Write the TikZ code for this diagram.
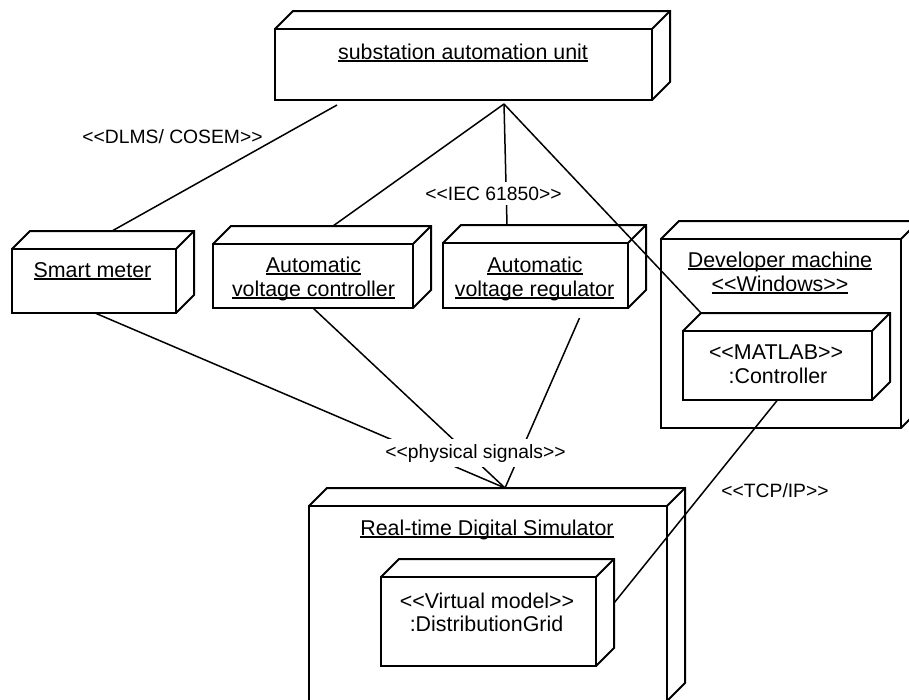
\documentclass[tikz,border=0pt]{standalone}
\usepackage{fontspec}
\setmainfont{Liberation Sans}
\usetikzlibrary{calc}
\newsavebox\ulbox
\newcommand\ulx[1]{\sbox\ulbox{#1}\rlap{\rule[-3pt]{\wd\ulbox}{2pt}}\usebox\ulbox}
\tikzset{
  cube/.style={draw, line width=2pt, rectangle, outer sep=0pt, inner sep=0pt},
  conn/.style={line width=1.5pt},
  ntext/.style={font=\fontsize{21.4}{24}\selectfont, inner sep=0pt, anchor=base},
  lbl/.style={font=\fontsize{19.3}{22}\selectfont, inner sep=5pt, anchor=base, fill=white},
}
\newcommand\depthfaces[1]{%
  \draw[line width=2pt, line join=miter] (#1.north west) -- ++(18,-18)
     -- ([shift={(18,-18)}]#1.north east) -- ([shift={(18,-18)}]#1.south east) -- (#1.south east);
  \draw[line width=2pt] (#1.north east) -- ++(18,-18);}
\begin{document}
\begin{tikzpicture}[x=1pt,y=-1pt]
\useasboundingbox (0,0) rectangle (909,699);
\clip (0,0) rectangle (909,699);
\fill[white] (0,0) rectangle (909,699);

% boxes
\node[cube, minimum width=377pt, minimum height=71pt] (sau) at (463.5,64.5) {};
\depthfaces{sau}
\node[cube, minimum width=164pt, minimum height=64pt] (sm) at (94,281) {};
\depthfaces{sm}
\node[cube, minimum width=200pt, minimum height=64pt] (avc) at (313,276) {};
\depthfaces{avc}
\node[cube, minimum width=185pt, minimum height=65pt] (avr) at (535.5,275.5) {};
\depthfaces{avr}
\node[cube, minimum width=240pt, minimum height=189pt] (dev) at (781,333.5) {};
\depthfaces{dev}
\node[cube, minimum width=189pt, minimum height=69pt] (mat) at (777.5,365.5) {};
\depthfaces{mat}
\node[cube, minimum width=358pt, minimum height=195pt] (sim) at (488,603.5) {};
\depthfaces{sim}
\node[cube, minimum width=215pt, minimum height=89pt] (vm) at (488.5,621.5) {};
\depthfaces{vm}

% texts
\node[ntext] (tsau) at (463,59) {\ulx{substation automation unit}};
\node[ntext] (tsm) at (92.5,277) {\ulx{Smart meter}};
\node[ntext] (tavc1) at (313.5,272) {\ulx{Automatic}};
\node[ntext] (tavc2) at (313.5,296) {\ulx{voltage controller}};
\node[ntext] (tavr1) at (535,272) {\ulx{Automatic}};
\node[ntext] (tavr2) at (534.5,296) {\ulx{voltage regulator}};
\node[ntext] (tdev1) at (780,267) {\ulx{Developer machine}};
\node[ntext] (tdev2) at (780,291) {\ulx{<{}<Windows>{}>}};
\node[ntext] (tmat1) at (776,359) {<{}<MATLAB>{}>};
\node[ntext] (tmat2) at (778,383) {:Controller};
\node[ntext] (tsim) at (487,535) {\ulx{Real-time Digital Simulator}};
\node[ntext] (tvm1) at (487,608) {<{}<Virtual model>{}>};
\node[ntext] (tvm2) at (486.5,631) {:DistributionGrid};

% connectors
\coordinate (dlmsTop) at (337,105);
\coordinate (iecHub) at (504,104);
\coordinate (physHub) at ($(sim.north west)+(196,-18)$);
\draw[conn] (dlmsTop) -- ($(sm.north west)+(100,-18)$);
\draw[conn] (iecHub) -- ($(avc.north west)+(120,-18)$);
\draw[conn] (iecHub) -- ($(avr.north west)+(64,-18)$);
\draw[conn] (iecHub) -- ($(mat.north west)+(18,-18)$);
\draw[conn] ($(sm.south)+(1,0)$) -- (physHub);
\draw[conn] (avc.south) -- (physHub);
\draw[conn] ($(avr.south)+(44,10)$) -- (physHub);
\draw[conn] (mat.south) -- ($(vm.north east)+(18,26)$);

% labels
\node[lbl, fill=none] (ldlms) at (172.5,143) {<{}<DLMS/ COSEM>{}>};
\node[lbl] (liec) at (493.5,200) {<{}<IEC 61850>{}>};
\node[lbl] (lphys) at (475.5,458) {<{}<physical signals>{}>};
\node[lbl, fill=none] (ltcp) at (775,497) {<{}<TCP/IP>{}>};
\end{tikzpicture}
\end{document}
